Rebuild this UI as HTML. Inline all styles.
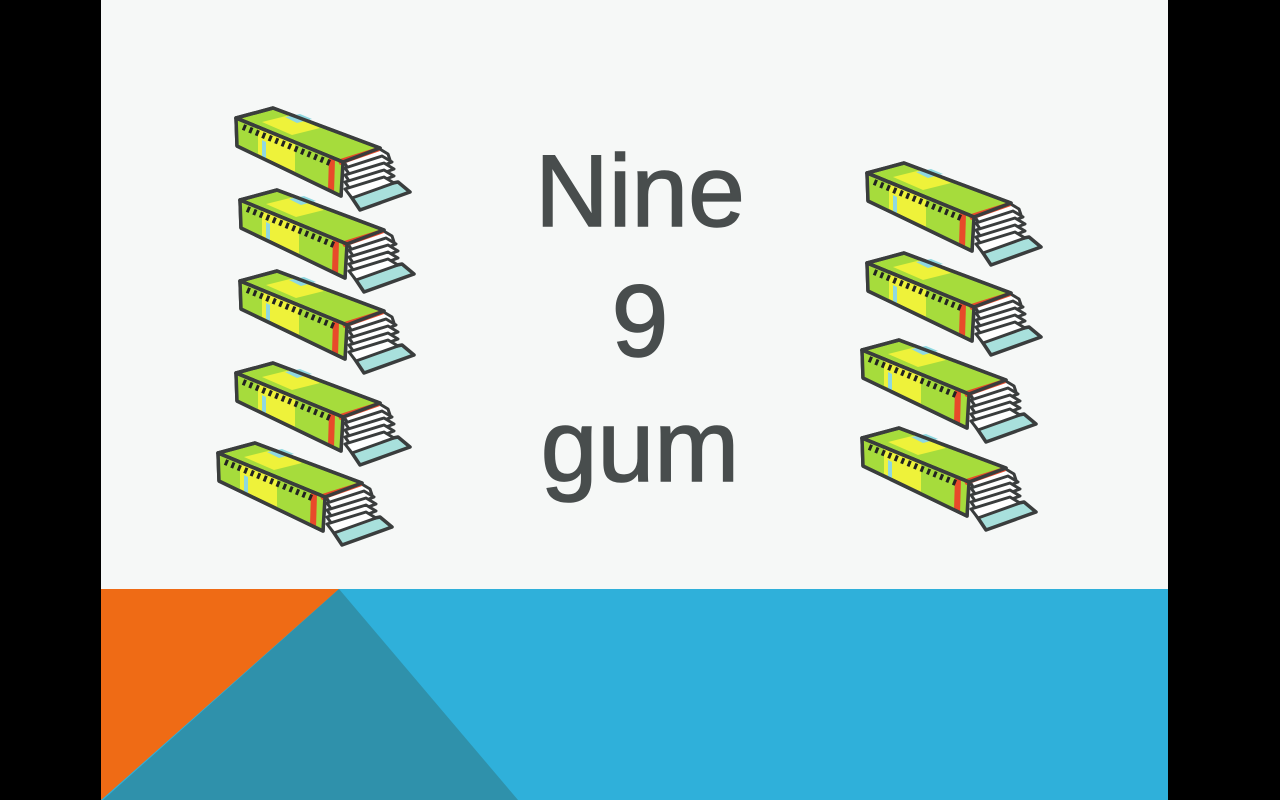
<!DOCTYPE html>
<html><head><style>
body{margin:0;width:1280px;height:800px;background:#000;overflow:hidden;position:relative;font-family:"Liberation Sans",sans-serif}
#slide{position:absolute;left:101px;top:0;width:1067px;height:800px;background:#f6f8f7}
.t{position:absolute;left:0;width:1280px;text-align:center;color:#484d4d;font-size:102px;line-height:1;-webkit-text-stroke:1.5px #484d4d}
</style></head><body>
<div id="slide"></div>
<svg width="1280" height="800" style="position:absolute;left:0;top:0">
<defs>
<g id="gum" stroke="#3a3d3d" stroke-width="3.5" stroke-linejoin="round">
  <!-- tab -->
  <path d="M348 192 L398 182 L410 192 L360 210 Z" fill="#a8e0dc"/>
  <!-- sheets -->
  <path d="M343 160 L378 148 L388 154 L390 160 L350 172 Z" fill="#fff" stroke-width="3"/>
  <path d="M345 168 L382 156 L392 162 L352 178 Z" fill="#fff" stroke-width="3"/>
  <path d="M345 175 L384 163 L394 169 L352 185 Z" fill="#fff" stroke-width="3"/>
  <path d="M345 182 L384 170 L394 176 L352 192 Z" fill="#fff" stroke-width="3"/>
  <path d="M345 189 L384 177 L394 183 L352 198 Z" fill="#fff" stroke-width="3"/>
  <!-- top -->
  <path d="M236 118 L273 108 L380 148 L343 162 Z" fill="#a6dc3c"/>
  <path d="M262 122 L290 115 L320 128 L292 135 Z" fill="#eef23a" stroke="none"/>
  <path d="M285 117 L300 114 L312 119 L297 123 Z" fill="#8fd8e0" stroke="none"/>
  <!-- front -->
  <path d="M236 118 L343 162 L341 196 L237 146 Z" fill="#eef23a"/>
  <path d="M236 118 L258 127 L258 156 L237 146 Z" fill="#a6dc3c" stroke="none"/>
  <path d="M295 142 L343 162 L341 196 L295 174 Z" fill="#a6dc3c" stroke="none"/>
  <path d="M262 140 L266 142 L266 158 L262 156 Z" fill="#8fd8e0" stroke="none"/>
  <path d="M329 157 L335 159 L334 193 L328 190 Z" fill="#e84a2a" stroke="none"/>
  <path d="M337 160 L378 147 L380 151 L340 165 Z" fill="#e84a2a" stroke="none"/>
  <path d="M243 127 L330 163" stroke="#222" stroke-width="6" stroke-dasharray="3 4" fill="none"/>
  <path d="M236 118 L343 162 L341 196 L237 146 Z" fill="none"/>
  <path d="M236 118 L273 108 L380 148 L343 162 Z" fill="none"/>
</g>
</defs>
<use href="#gum"/>
<use href="#gum" x="4" y="82"/>
<use href="#gum" x="4" y="163"/>
<use href="#gum" x="0" y="255"/>
<use href="#gum" x="-18" y="335"/>
<use href="#gum" x="631" y="55"/>
<use href="#gum" x="631" y="145"/>
<use href="#gum" x="626" y="232"/>
<use href="#gum" x="626" y="320"/>
<rect x="101" y="589" width="1067" height="211" fill="#2fb0da"/>
<polygon points="101,589 339,589 101,800" fill="#ef6b15"/>
<polygon points="339,589 518,800 103,800" fill="#2f91ab"/>
</svg>
<div class="t" style="top:140px">Nine</div>
<div class="t" style="top:270px">9</div>
<div class="t" style="top:395px">gum</div>
</body></html>
